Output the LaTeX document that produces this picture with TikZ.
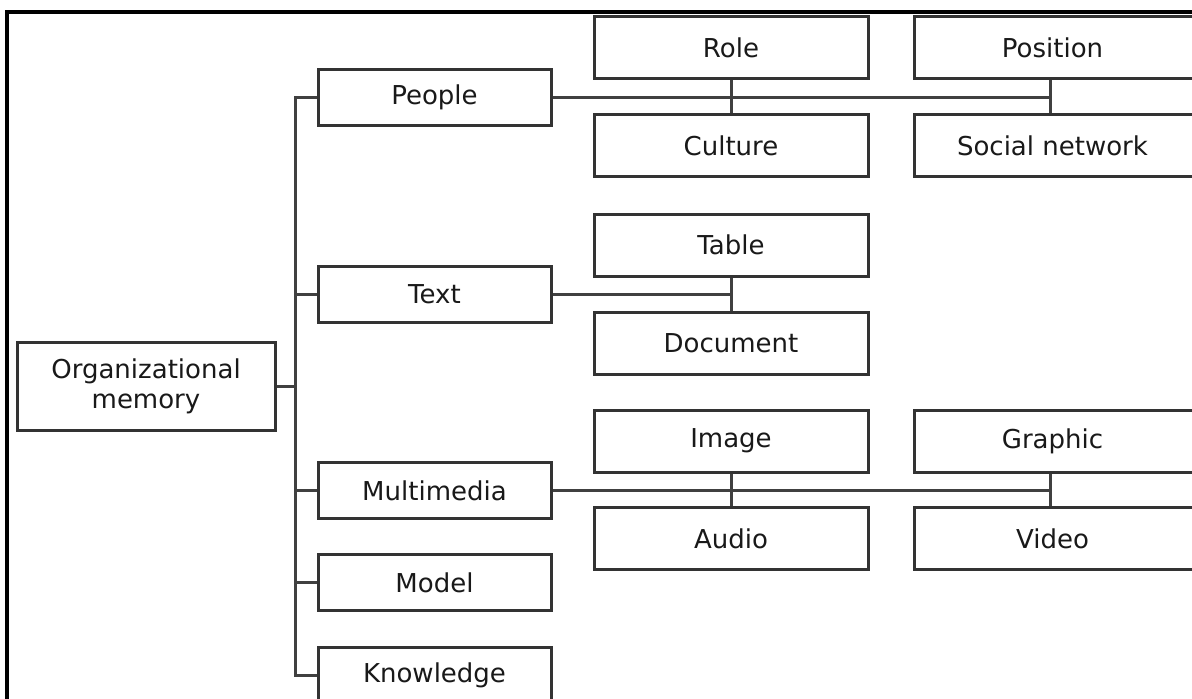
\documentclass[tikz,border=0pt]{standalone}
\usepackage{fontspec}
\setmainfont{DejaVu Sans}
\usetikzlibrary{calc}

\begin{document}
\begin{tikzpicture}[x=1pt,y=-1pt,
  box/.style={draw=black!80,line width=3pt,fill=white,text=black!90,
    minimum width=274pt,minimum height=62pt,inner sep=0pt,align=center,
    font=\fontsize{26}{30}\selectfont},
  sub/.style={box,minimum width=233pt,minimum height=56pt},
  far/.style={box,minimum width=290pt,anchor=west},
  link/.style={draw=black!75,line width=3pt}]
% Picture is the size of the page, boxes on the right run off it
\useasboundingbox (0,0) rectangle (1192,699);
\clip (0,0) rectangle (1192,699);
% Outer frame, only its top and left show
\draw[line width=3.5pt] (7,12) rectangle (1260,760);
% Columns of the trunk line and of the far split
\coordinate (trunk) at (295,0);
\coordinate (split) at (1050,0);
% Root
\node[box,minimum width=258pt,minimum height=88pt] (org) at (146,386) {Organizational\\memory};
% Kinds of memory
\node[sub] (people) at (434.5,97) {People};
\node[sub] (text) at (434.5,294.5) {Text};
\node[sub] (multimedia) at (434.5,490.5) {Multimedia};
\node[sub] (model) at (434.5,582.5) {Model};
\node[sub] (knowledge) at (434.5,675) {Knowledge};
% Leaves of People
\node[box] (role) at (731,47.5) {Role};
\node[box] (culture) at (731,145.5) {Culture};
\node[far] (position) at (913,47.5) {Position\hspace*{14pt}};
\node[far] (social) at (913,145.5) {Social network\hspace*{14pt}};
% Leaves of Text
\node[box] (table) at (731,245) {Table};
\node[box] (document) at (731,343) {Document};
% Leaves of Multimedia
\node[box] (image) at (731,441) {Image};
\node[box] (audio) at (731,538.5) {Audio};
\node[far] (graphic) at (913,441) {Graphic\hspace*{14pt}};
\node[far] (video) at (913,538.5) {Video\hspace*{14pt}};
% Trunk from the root to every kind
\draw[link] (org.east) -- (org.east -| trunk);
\draw[link] (people.west) -- (people.west -| trunk) -- (knowledge.west -| trunk) -- (knowledge.west);
\draw[link] (text.west) -- (text.west -| trunk);
\draw[link] (multimedia.west) -- (multimedia.west -| trunk);
\draw[link] (model.west) -- (model.west -| trunk);
% Branches to the leaves
\draw[link] (people.east) -- (people.east -| split);
\draw[link] (role.south) -- (culture.north);
\draw[link] (position.south -| split) -- (social.north -| split);
\draw[link] (text.east) -- (text.east -| table.south);
\draw[link] (table.south) -- (document.north);
\draw[link] (multimedia.east) -- (multimedia.east -| split);
\draw[link] (image.south) -- (audio.north);
\draw[link] (graphic.south -| split) -- (video.north -| split);
\end{tikzpicture}
\end{document}
